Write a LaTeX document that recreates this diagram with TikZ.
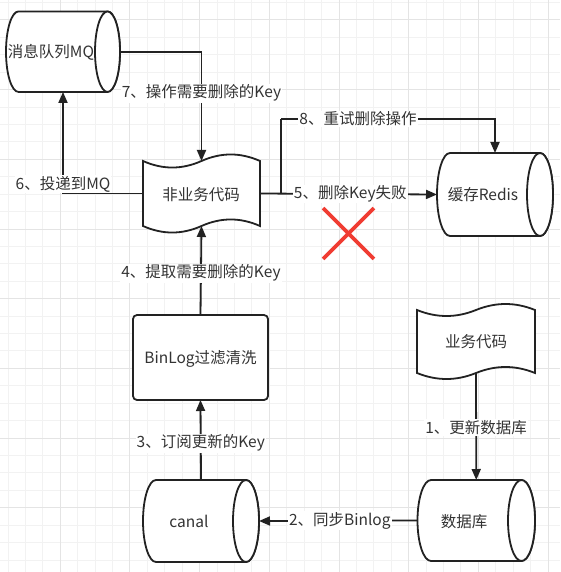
\documentclass[tikz,border=0pt]{standalone}
\usepackage{fontspec}
\setmainfont{Noto Sans CJK SC}
\usetikzlibrary{arrows.meta,calc,shapes.misc}
\definecolor{minorg}{HTML}{F2F2F2}
\definecolor{majorg}{HTML}{E4E4E4}
\definecolor{ink}{HTML}{222222}
\definecolor{txt}{HTML}{333333}
\definecolor{failred}{HTML}{F03C32}
\newcommand{\cylshape}[3]{% name, x radius, y radius
  \path[shapeline] ($(#1.north west)+(#2,0)$) -- ($(#1.north east)+(-#2,0)$)
    arc[start angle=90, end angle=-90, x radius=#2pt, y radius=#3pt]
    -- ($(#1.south west)+(#2,0)$)
    arc[start angle=270, end angle=90, x radius=#2pt, y radius=#3pt] -- cycle;
  \draw[shapeline] ($(#1.east)+(-#2,0)$) ellipse[x radius=#2pt, y radius=#3pt];
}
\begin{document}
\begin{tikzpicture}[x=1pt,y=-1pt,
  minorgrid/.style={draw=minorg, line width=1pt},
  majorgrid/.style={draw=majorg, line width=1pt},
  holder/.style={draw=none, inner sep=0pt, outer sep=0pt},
  shapeline/.style={draw=ink, line width=1.8pt, fill=white},
  arr/.style={draw=ink, line width=1.8pt, -{Triangle[length=11pt,width=9pt]}},
  plain/.style={draw=ink, line width=1.8pt},
  txtn/.style={text=txt, inner sep=0pt, font=\fontsize{15.5}{18}\selectfont},
  lbl/.style={fill=white, text=txt, inner sep=1pt, font=\fontsize{15.5}{18}\selectfont}]
\useasboundingbox (0,0) rectangle (560,572);
\fill[white] (0,0) rectangle (560,572);
% grid
\foreach \i in {0,...,31} {
  \pgfmathsetmacro\xx{8.05+17.42*\i}
  \draw[minorgrid] (\xx,0) -- (\xx,572);
}
\foreach \j in {0,...,32} {
  \pgfmathsetmacro\yy{2.58+17.42*\j}
  \draw[minorgrid] (0,\yy) -- (560,\yy);
}
\foreach \i in {3,7,...,31} {
  \pgfmathsetmacro\xx{8.05+17.42*\i}
  \draw[majorgrid] (\xx,0) -- (\xx,572);
}
\foreach \j in {1,5,...,32} {
  \pgfmathsetmacro\yy{2.58+17.42*\j}
  \draw[majorgrid] (0,\yy) -- (560,\yy);
}
% shape holders
\node[holder, minimum width=114pt, minimum height=80.5pt] (mq) at (63,51.7) {};
\node[holder, minimum width=117pt, minimum height=65pt] (nb) at (201.5,193.5) {};
\node[holder, minimum width=116pt, minimum height=83pt] (redis) at (495,194.5) {};
\node[holder, minimum width=135pt, minimum height=85pt] (binlog) at (200.5,357.5) {};
\node[holder, minimum width=118pt, minimum height=63pt] (bc) at (476,341.5) {};
\node[holder, minimum width=117.5pt, minimum height=81pt] (db) at (476.25,520.5) {};
\node[holder, minimum width=116pt, minimum height=82pt] (canal) at (201,521) {};
% outlines
\cylshape{mq}{12.5}{40.25}
\cylshape{redis}{13}{41.5}
\cylshape{db}{13.5}{40.5}
\cylshape{canal}{13}{41}
\draw[shapeline, rounded corners=4pt] (binlog.north west) rectangle (binlog.south east);
\path[shapeline] (143,161) .. controls (162.5,169.7) and (182,169.7) .. (201.5,161)
  .. controls (221,152.3) and (240.5,152.3) .. (260,161) -- (260,226)
  .. controls (240.5,217.3) and (221,217.3) .. (201.5,226)
  .. controls (182,234.7) and (162.5,234.7) .. (143,226) -- cycle;
\path[shapeline] (417,310) .. controls (436.7,318) and (456.3,318) .. (476,310)
  .. controls (495.7,302) and (515.3,302) .. (535,310) -- (535,373)
  .. controls (515.3,365) and (495.7,365) .. (476,373)
  .. controls (456.3,381) and (436.7,381) .. (417,373) -- cycle;
% texts
\node[txtn] (mqt) at (51,52) {消息队列MQ};
\node[txtn] (nbt) at (201,195) {非业务代码};
\node[txtn] (redist) at (483,195) {缓存Redis};
\node[txtn] (binlogt) at (200.5,359) {BinLog过滤清洗};
\node[txtn] (bct) at (476,341.5) {业务代码};
\node[txtn] (dbt) at (464,521.5) {数据库};
\node[txtn] (canalt) at (189,521.5) {canal};
% connectors
\coordinate (b8) at (281,119);
\draw[arr] (bc.south) -- node[lbl, pos=0.51] {1、更新数据库} (db.north);
\draw[arr] (db.west) -- node[lbl, pos=0.49] {2、同步Binlog} (canal.east);
\draw[arr] (canal.north) -- node[lbl, pos=0.46] {3、订阅更新的Key} (binlog.south);
\draw[arr] (binlog.north) -- node[lbl, pos=0.47] {4、提取需要删除的Key} (nb.south);
\draw[arr] (nb.east) -- node[lbl, pos=0.51] {5、删除Key失败} (redis.west);
\draw[arr] (nb.west) -| node[lbl, pos=0.545] {6、投递到MQ} (mq.south);
\draw[arr] (mq.east) -| node[lbl, pos=0.69] {7、操作需要删除的Key} (nb.north);
\draw[plain] (nb.east) -| (b8);
\draw[arr] (b8) -| node[lbl, pos=0.18] {8、重试删除操作} (redis.north);
% failure mark
\node[cross out, draw=failred, line width=3.8pt, minimum size=47pt, inner sep=0pt] (fail) at (348.5,233.5) {};
\end{tikzpicture}
\end{document}
